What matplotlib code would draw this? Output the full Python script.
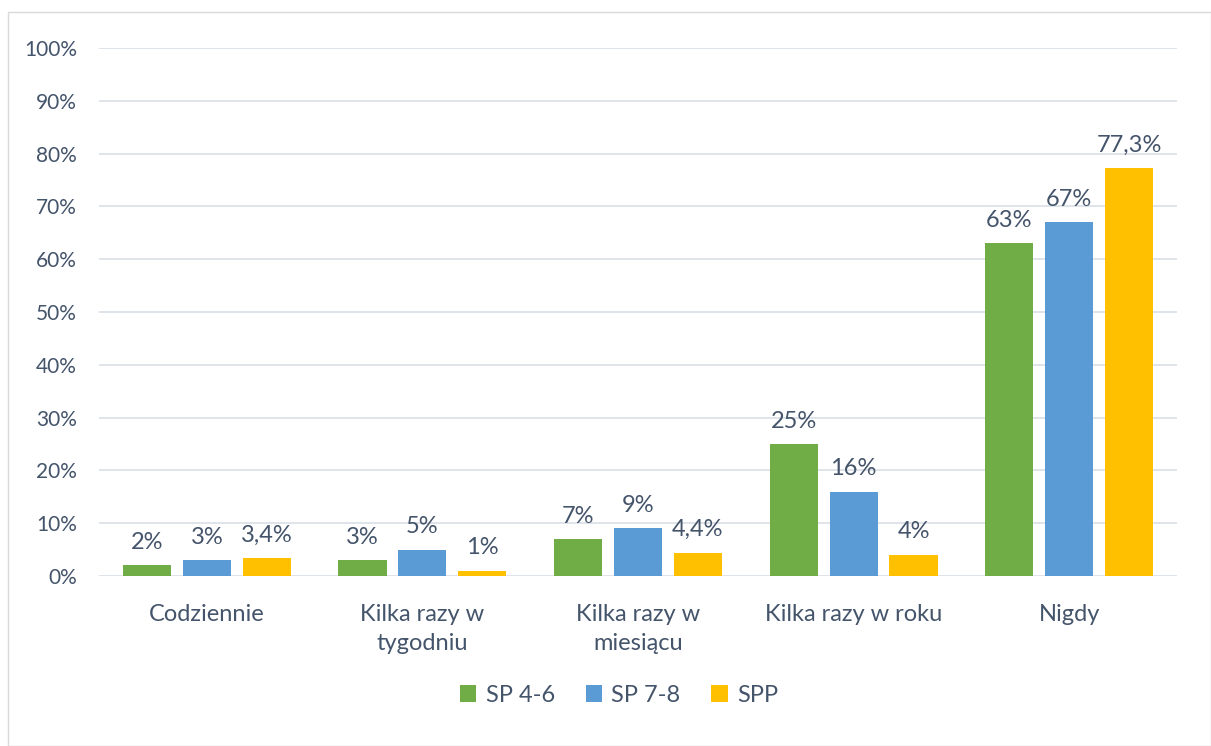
import matplotlib
matplotlib.use("Agg")
import matplotlib.pyplot as plt
import matplotlib.patheffects as pe
from matplotlib.patches import Rectangle
import numpy as np

categories = ["Codziennie", "Kilka razy w\ntygodniu", "Kilka razy w\nmiesiącu",
              "Kilka razy w roku", "Nigdy"]
series = ["SP 4-6", "SP 7-8", "SPP"]
sp46 = [2, 3, 7, 25, 63]
sp78 = [3, 5, 9, 16, 67]
spp = [3.4, 1, 4.4, 4, 77.3]
colors = ["#70AD47", "#5B9BD5", "#FFC000"]

plt.rcParams['font.family'] = ['Lato', 'DejaVu Sans']
txt = "#44546A"

fig = plt.figure(figsize=(12.11, 7.46), dpi=100)
fig.patches.append(Rectangle((8 / 1211, 0), 1 - 8 / 1211, 1 - 12 / 746,
                             transform=fig.transFigure, fill=False,
                             edgecolor="#D9D9D9", linewidth=1))
ax = fig.add_axes([99 / 1211, 1 - 576 / 746, 1078 / 1211, 528 / 746])

x = np.arange(len(categories))
w = 0.223
step = 0.278
shadow = [pe.SimplePatchShadow(offset=(0, -2), shadow_rgbFace="#7F7F7F", alpha=0.35),
          pe.Normal()]

for i, (name, vals) in enumerate(zip(series, [sp46, sp78, spp])):
    pos = x + (i - 1) * step
    bars = ax.bar(pos, vals, width=w, color=colors[i], label=name, zorder=3)
    for b in bars:
        b.set_path_effects(shadow)
    for p, v in zip(pos, vals):
        s = (f"{v:.1f}".replace(".", ",") if v != int(v) else f"{int(v)}") + "%"
        ax.annotate(s, (p, v), xytext=(0, 9), textcoords="offset points",
                    ha="center", va="bottom", fontsize=17, color=txt)

ax.set_xlim(-0.5, len(categories) - 0.5)
ax.set_ylim(0, 100)
ax.set_yticks(range(0, 101, 10))
ax.set_yticklabels([f"{t}%" for t in range(0, 101, 10)])
ax.set_xticks(x)
ax.set_xticklabels(categories, linespacing=1.5, fontsize=17)
ax.tick_params(axis="both", length=0, colors=txt)
ax.tick_params(axis="y", pad=16, labelsize=15)
ax.tick_params(axis="x", pad=20)
ax.grid(axis="y", color="#D9DEE6", linewidth=1.2, zorder=0)
for sp in ax.spines.values():
    sp.set_visible(False)

leg = fig.legend(loc="center", bbox_to_anchor=(619 / 1211, 1 - 695 / 746), ncol=3,
                 frameon=False, fontsize=17, handlelength=0.7, handleheight=0.7,
                 handletextpad=0.4, columnspacing=1.3)
for t in leg.get_texts():
    t.set_color(txt)
for h in leg.legend_handles:
    h.set_path_effects([])

fig.savefig("out.png", dpi=100)
